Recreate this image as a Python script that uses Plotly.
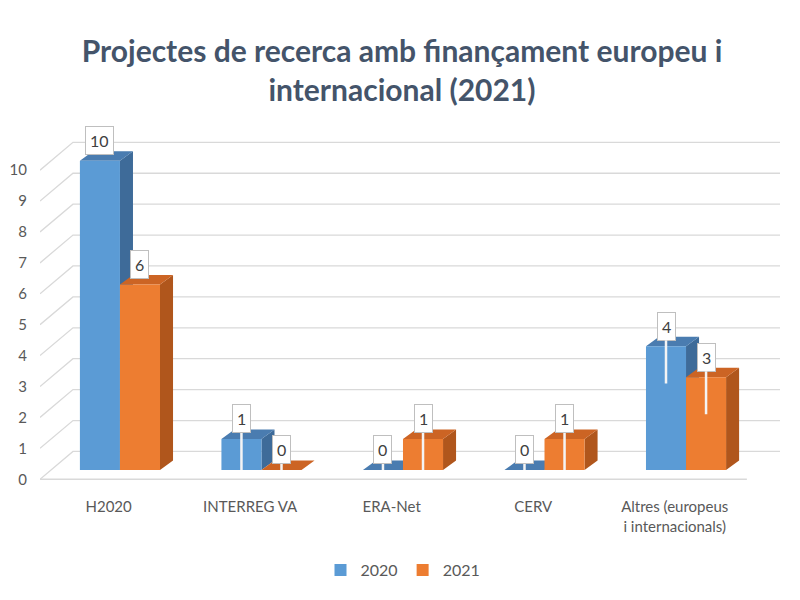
import plotly.graph_objects as go

# data
categories = ["H2020", "INTERREG VA", "ERA-Net", "CERV", "Altres (europeus<br>i internacionals)"]
series_names = ["2020", "2021"]
values_2020 = [10, 1, 0, 0, 4]
values_2021 = [6, 0, 1, 1, 3]
y_ticks = list(range(0, 11))

# fake 3D geometry (category units on x, value units on y)
BAR_W = 0.283
DEPTH_X = 0.092
DEPTH_Y = 0.31
WALL_DY = 0.6
LABEL_DY = 0.3
X_MIN, X_MAX = -0.565, 4.664
X_WALL = -0.332
X_FLOOR_END = 4.43
Y_RANGE = [-0.647, 11.16]

colors = {
    "2020": {"front": "#5b9bd5", "side": "#3e6b99", "top": "#4a7cb0"},
    "2021": {"front": "#ed7d31", "side": "#b0561c", "top": "#cc6424"},
}
GRID = "#d9d9d9"
TEXT = "#595959"
FONT = "Lato"


def bar_faces(centers, vals):
    side_x, side_y, top_x, top_y = [], [], [], []
    for xc, v in zip(centers, vals):
        left, right = xc - BAR_W / 2, xc + BAR_W / 2
        side_x += [right, right + DEPTH_X, right + DEPTH_X, right, right, None]
        side_y += [0, DEPTH_Y, v + DEPTH_Y, v, 0, None]
        top_x += [left, left + DEPTH_X, right + DEPTH_X, right, left, None]
        top_y += [v, v + DEPTH_Y, v + DEPTH_Y, v, v, None]
    return side_x, side_y, top_x, top_y


fig = go.Figure()

# back wall gridlines with the little diagonals to the tick labels
gx, gy = [], []
for t in y_ticks:
    gx += [X_MIN, X_WALL, X_MAX, None]
    gy += [t - LABEL_DY, t + WALL_DY, t + WALL_DY, None]
gx += [X_MIN, X_FLOOR_END, None]
gy += [-LABEL_DY, -LABEL_DY, None]
fig.add_trace(go.Scatter(x=gx, y=gy, mode="lines", line=dict(color=GRID, width=1.3),
                         hoverinfo="skip", showlegend=False))

idx = list(range(len(categories)))
series = [
    ("2020", [i - BAR_W / 2 for i in idx], values_2020),
    ("2021", [i + BAR_W / 2 for i in idx], values_2021),
]

for name, xs, vals in series:
    sx, sy, tx, ty = bar_faces(xs, vals)
    fig.add_trace(go.Scatter(x=sx, y=sy, mode="none", fill="toself",
                             fillcolor=colors[name]["side"], hoverinfo="skip", showlegend=False))
    fig.add_trace(go.Scatter(x=tx, y=ty, mode="none", fill="toself",
                             fillcolor=colors[name]["top"], hoverinfo="skip", showlegend=False))

for name, xs, vals in series:
    fig.add_trace(go.Bar(x=xs, y=vals, width=BAR_W, name=name, yaxis="y2",
                         marker=dict(color=colors[name]["front"], line=dict(width=0)),
                         customdata=categories, hovertemplate="%{customdata}: %{y}<extra>" + name + "</extra>"))

# empty trace so the tick label axis gets drawn
fig.add_trace(go.Scatter(x=[X_MIN], y=[0], yaxis="y3", mode="none",
                         hoverinfo="skip", showlegend=False))

# callout style data labels
annotations = []
for name, xs, vals in series:
    for xc, v in zip(xs, vals):
        label = dict(text=str(v), x=xc, xref="x", yref="y2",
                     font=dict(family=FONT, size=16, color="#404040"),
                     bgcolor="white", bordercolor="#bfbfbf", borderwidth=1, borderpad=4)
        if v >= 5:
            label.update(y=v + 0.65, showarrow=False)
        else:
            label.update(y=max(v - 1.2, 0), ax=xc, ay=v + 0.65, axref="x", ayref="y2",
                         showarrow=True, arrowhead=0, arrowwidth=2.5, arrowcolor="#f4f4f4",
                         standoff=0, startstandoff=0)
        annotations.append(label)

fig.update_layout(
    width=800, height=600,
    margin=dict(l=32, r=28, t=117, b=118),
    paper_bgcolor="white", plot_bgcolor="white",
    barmode="overlay",
    title=dict(text="Projectes de recerca amb finançament europeu i<br>internacional (2021)",
               x=394 / 800, xanchor="center", y=1 - 54 / 600, yanchor="top",
               font=dict(family=FONT, size=30, color="#44546a", weight="bold")),
    font=dict(family=FONT, size=14, color=TEXT),
    xaxis=dict(range=[X_MIN, X_MAX], tickvals=[i - 0.08 for i in idx], ticktext=categories,
               showgrid=False, zeroline=False, showline=False, ticks="",
               ticklabelstandoff=6, automargin=False,
               tickfont=dict(family=FONT, size=15, color=TEXT), fixedrange=True),
    yaxis=dict(range=Y_RANGE, visible=False, fixedrange=True),
    yaxis2=dict(range=Y_RANGE, overlaying="y", visible=False, fixedrange=True),
    yaxis3=dict(range=[Y_RANGE[0] + LABEL_DY, Y_RANGE[1] + LABEL_DY], overlaying="y", side="left",
                tickvals=y_ticks, showgrid=False, zeroline=False, showline=False, ticks="",
                ticklabelstandoff=12, automargin=False,
                tickfont=dict(family=FONT, size=15, color=TEXT), fixedrange=True),
    legend=dict(orientation="h", x=395 / 800, xanchor="center", xref="container",
                y=1 - 562 / 600, yanchor="middle", yref="container",
                font=dict(family=FONT, size=16, color=TEXT)),
    annotations=annotations,
)

fig.write_html("out.html")
